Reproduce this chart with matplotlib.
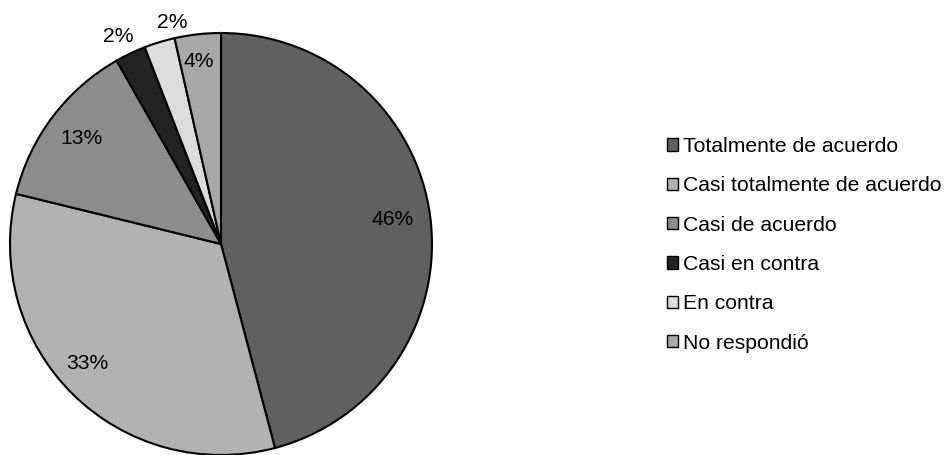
"""Pie chart of survey responses with a legend on the right."""

import matplotlib.pyplot as plt
from matplotlib.patches import Patch
import numpy as np

plt.rcParams["font.family"] = ["Liberation Sans", "DejaVu Sans"]

categories = [
    "Totalmente de acuerdo",
    "Casi totalmente de acuerdo",
    "Casi de acuerdo",
    "Casi en contra",
    "En contra",
    "No respondió",
]
counts = [39, 28, 11, 2, 2, 3]
colors = ["#606060", "#b2b2b2", "#8c8c8c", "#222222", "#dcdcdc", "#a8a8a8"]
# percentage label placement: distance from centre (radii) and turn from wedge middle (deg)
label_radius = [0.82, 0.85, 0.83, 1.096, 1.073, 0.87]
label_shift = [0.6, -3.7, 0.0, 1.0, -4.5, 0.5]


def main() -> None:
    fig = plt.figure(figsize=(9.45, 4.55), dpi=100)
    cx, cy, r = 221, 244, 211
    ax = fig.add_axes([(cx - r) / 945, (455 - cy - r) / 455, 2 * r / 945, 2 * r / 455])

    wedges, _ = ax.pie(
        counts,
        colors=colors,
        startangle=90,
        counterclock=False,
        wedgeprops={"edgecolor": "black", "linewidth": 1.5},
    )
    for w in wedges:
        w.set_clip_on(False)

    total = sum(counts)
    for w, c, lr, sh in zip(wedges, counts, label_radius, label_shift):
        mid = np.deg2rad((w.theta1 + w.theta2) / 2 + sh)
        ax.text(lr * np.cos(mid), lr * np.sin(mid), f"{round(100 * c / total)}%",
                ha="center", va="center", fontsize=15.25, color="black")
    ax.set_xlim(-1, 1)
    ax.set_ylim(-1, 1)
    ax.set_aspect("equal")
    ax.axis("off")

    handles = [Patch(facecolor=col, edgecolor="black", linewidth=1.0) for col in colors]
    fig.legend(
        handles, categories,
        loc="upper left", bbox_to_anchor=(667 / 945, 1 - 137 / 455),
        frameon=False, fontsize=15.25, borderpad=0, borderaxespad=0,
        handlelength=0.52, handleheight=0.52, handletextpad=0.25,
        labelspacing=0.96,
    )

    fig.savefig("out.png", dpi=100)
    plt.close(fig)


if __name__ == "__main__":
    main()
